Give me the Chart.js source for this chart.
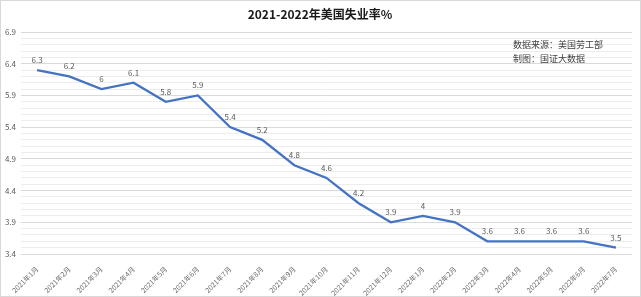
<!DOCTYPE html>
<html>
<head>
<meta charset="utf-8">
<script src="https://cdn.jsdelivr.net/npm/chart.js@4"></script>
<style>
    html, body { margin: 0; padding: 0; background: #fff; }
    #wrap {
        width: 641px; height: 297px; box-sizing: border-box;
        border: 1px solid #d9d9d9; position: relative;
    }
    canvas { display: block; }
</style>
</head>
<body>
<div id="wrap"><canvas id="rateChart" width="639" height="295"></canvas></div>
<script>
// 数据
const months = [
    '2021年1月', '2021年2月', '2021年3月', '2021年4月', '2021年5月', '2021年6月',
    '2021年7月', '2021年8月', '2021年9月', '2021年10月', '2021年11月', '2021年12月',
    '2022年1月', '2022年2月', '2022年3月', '2022年4月', '2022年5月', '2022年6月', '2022年7月'
];
const unemploymentRate = [6.3, 6.2, 6, 6.1, 5.8, 5.9, 5.4, 5.2, 4.8, 4.6, 4.2, 3.9, 4, 3.9, 3.6, 3.6, 3.6, 3.6, 3.5];
const yMin = 3.4;
const yMax = 6.9;
const chartTitle = '2021-2022年美国失业率%';
const sourceLines = ['数据来源：美国劳工部', '制图：国证大数据'];

const FONT = '"Microsoft YaHei", "Noto Sans CJK SC", sans-serif';

// 标题、数据标签、来源说明
const decorPlugin = {
    id: 'decor',
    afterDatasetsDraw(chart) {
        const ctx = chart.ctx;
        ctx.save();

        // 标题
        ctx.font = `bold 12px ${FONT}`;
        ctx.fillStyle = '#1a1a1a';
        ctx.textAlign = 'center';
        ctx.textBaseline = 'middle';
        ctx.fillText(chartTitle, 319, 13);

        // 数据标签
        ctx.font = `8px ${FONT}`;
        ctx.fillStyle = '#595959';
        const meta = chart.getDatasetMeta(0);
        meta.data.forEach((pt, i) => {
            ctx.fillText(String(unemploymentRate[i]), pt.x, pt.y - 10);
        });

        // 来源
        ctx.font = `9px ${FONT}`;
        ctx.fillStyle = '#404040';
        ctx.textAlign = 'left';
        sourceLines.forEach((line, i) => {
            ctx.fillText(line, 512, 44 + i * 14);
        });
        ctx.restore();
    }
};

function isMajor(value) {
    return Math.round(value * 10 - yMin * 10) % 5 === 0;
}

const ctx = document.getElementById('rateChart').getContext('2d');
new Chart(ctx, {
    type: 'line',
    data: {
        labels: months,
        datasets: [{
            data: unemploymentRate,
            borderColor: '#4472c4',
            borderWidth: 2.25,
            pointRadius: 0,
            tension: 0,
            fill: false
        }]
    },
    options: {
        responsive: false,
        animation: false,
        layout: { padding: { top: 31, right: 8, bottom: 0, left: 0 } },
        plugins: {
            legend: { display: false },
            title: { display: false },
            tooltip: { enabled: false }
        },
        scales: {
            x: {
                offset: true,
                grid: { display: false },
                border: { display: false },
                ticks: {
                    autoSkip: false,
                    minRotation: 45,
                    maxRotation: 45,
                    color: '#6b6b6b',
                    font: { size: 7, family: FONT },
                    padding: 3
                },
                afterFit(scale) { scale.height = 42; }
            },
            y: {
                min: yMin,
                max: yMax,
                border: { display: false },
                grid: {
                    drawTicks: false,
                    color: c => isMajor(c.tick.value) ? '#d9d9d9' : '#ededed',
                    lineWidth: 1
                },
                ticks: {
                    stepSize: 0.1,
                    autoSkip: false,
                    color: '#595959',
                    font: { size: 8, family: FONT },
                    padding: 5,
                    callback: v => isMajor(v) ? v.toFixed(1) : ''
                },
                afterFit(scale) { scale.width = 20; }
            }
        }
    },
    plugins: [decorPlugin]
});
</script>
</body>
</html>
